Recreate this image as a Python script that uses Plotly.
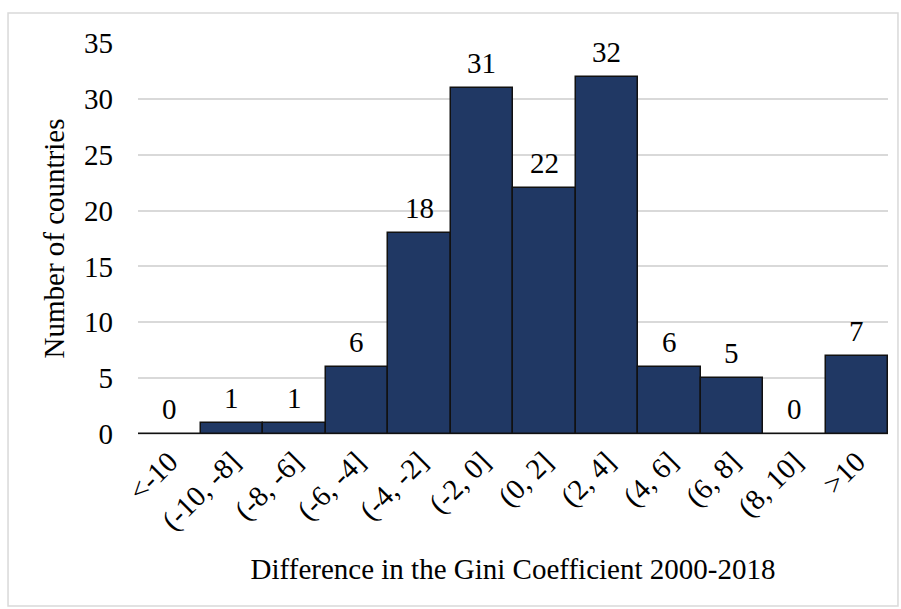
import plotly.graph_objects as go

categories = ["<-10", "(-10, -8]", "(-8, -6]", "(-6, -4]", "(-4, -2]", "(-2, 0]",
              "(0, 2]", "(2, 4]", "(4, 6]", "(6, 8]", "(8, 10]", ">10"]
counts = [0, 1, 1, 6, 18, 31, 22, 32, 6, 5, 0, 7]
y_ticks = [0, 5, 10, 15, 20, 25, 30, 35]

FONT = "Liberation Serif, Times New Roman, serif"
FS = 29

fig = go.Figure()
fig.add_trace(go.Bar(
    x=categories, y=counts,
    marker=dict(color="#203864", line=dict(color="#111111", width=1.5)),
    cliponaxis=False,
))

annotations = [
    dict(x=c, y=v, xref="x", yref="y", text=str(v), showarrow=False,
         yanchor="middle", yshift=25,
         font=dict(family=FONT, size=FS, color="black"))
    for c, v in zip(categories, counts)
]

fig.update_layout(
    width=901, height=609,
    margin=dict(l=138, r=13, t=43, b=175),
    paper_bgcolor="white", plot_bgcolor="white",
    bargap=0,
    showlegend=False,
    font=dict(family=FONT, size=FS, color="black"),
    annotations=annotations,
    xaxis=dict(
        tickangle=-45, tickfont=dict(family=FONT, size=FS, color="black"),
        showline=False, showgrid=False, ticks="", ticklabelstandoff=4,
        title=dict(text="Difference in the Gini Coefficient 2000-2018",
                   font=dict(family=FONT, size=FS, color="black"), standoff=22),
    ),
    yaxis=dict(
        range=[0, 35], tickvals=y_ticks,
        tickfont=dict(family=FONT, size=FS, color="black"),
        showgrid=True, gridcolor="#d9d9d9", gridwidth=1.5,
        zeroline=True, zerolinecolor="#d9d9d9", zerolinewidth=1.5,
        showline=False, ticks="", ticklen=0, ticklabelstandoff=24,
        title=dict(text="Number of countries",
                   font=dict(family=FONT, size=FS, color="black"), standoff=10),
    ),
    shapes=[dict(type="rect", xref="paper", yref="paper",
                 x0=-0.1733, x1=1.0133, y0=-0.44, y1=1.0767,
                 line=dict(color="#d9d9d9", width=1.5), layer="below")],
)

fig.write_html("out.html", config={"displayModeBar": False},
               post_script="document.body.style.margin='0';")
